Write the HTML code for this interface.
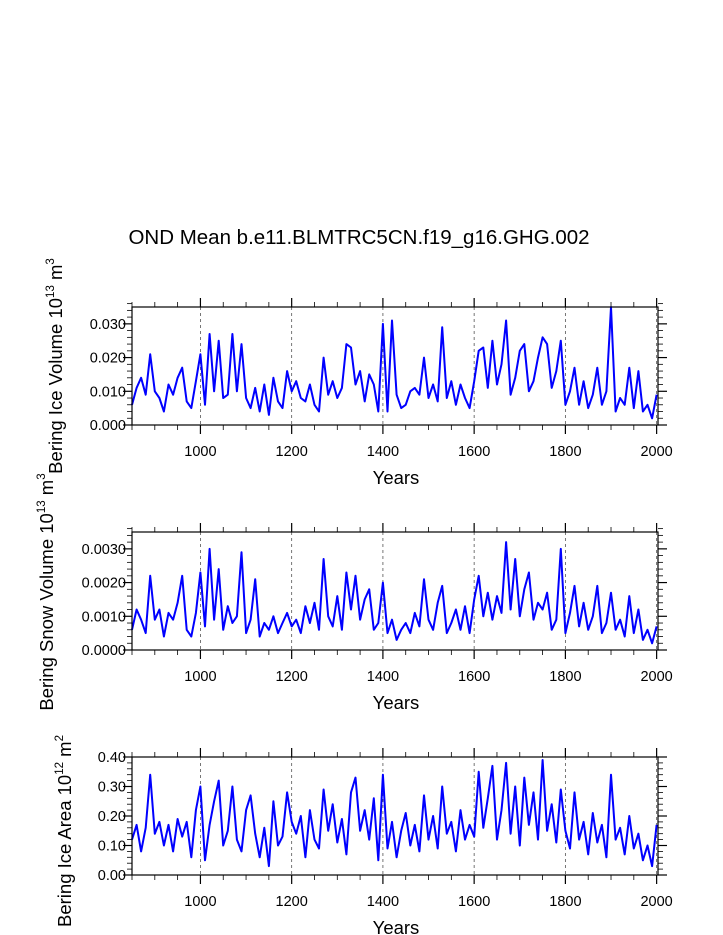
<!DOCTYPE html>
<html><head><meta charset="utf-8">
<style>
html,body{margin:0;padding:0;background:#fff;}
svg{display:block;font-family:"Liberation Sans",Arial,sans-serif;}
</style></head>
<body>
<svg id="chart" width="723" height="935" viewBox="0 0 723 935" xmlns="http://www.w3.org/2000/svg">
<text x="359" y="244" font-size="20.5" text-anchor="middle">OND Mean b.e11.BLMTRC5CN.f19_g16.GHG.002</text>
</svg>
<script>
// ---- data ----
const startYear = 850;
const yearStep = 10;
const iceVolume = [0.006,0.011,0.014,0.009,0.021,0.010,0.008,0.004,0.012,0.009,0.014,0.017,0.007,0.005,0.013,
0.021,0.006,0.027,0.010,0.025,0.008,0.009,0.027,0.010,0.024,0.008,0.005,0.011,0.004,0.012,0.003,0.014,0.007,0.005,0.016,
0.010,0.013,0.008,0.007,0.012,0.006,0.004,0.020,0.009,0.013,0.008,0.011,0.024,0.023,0.012,0.016,0.007,0.015,0.012,0.004,
0.030,0.004,0.031,0.009,0.005,0.006,0.010,0.011,0.009,0.020,0.008,0.012,0.007,0.029,0.008,0.013,0.006,0.012,0.008,0.005,
0.013,0.022,0.023,0.011,0.025,0.012,0.018,0.031,0.009,0.014,0.022,0.024,0.010,0.013,0.020,0.026,0.024,0.011,0.016,0.025,
0.006,0.010,0.017,0.006,0.013,0.005,0.009,0.017,0.006,0.010,0.035,0.004,0.008,0.006,0.017,0.005,0.016,0.004,0.006,0.002,0.009];
const snowVolume = [0.0006,0.0012,0.0009,0.0005,0.0022,0.0009,0.0012,0.0004,0.0011,0.0009,0.0014,0.0022,0.0006,0.0004,0.0011,
0.0023,0.0007,0.0030,0.0009,0.0024,0.0006,0.0013,0.0008,0.0010,0.0029,0.0005,0.0009,0.0021,0.0004,0.0008,0.0006,0.0010,0.0005,0.0008,0.0011,
0.0007,0.0009,0.0005,0.0013,0.0008,0.0014,0.0006,0.0027,0.0010,0.0007,0.0016,0.0006,0.0023,0.0012,0.0022,0.0009,0.0015,0.0018,0.0006,0.0008,
0.0020,0.0005,0.0009,0.0003,0.0006,0.0008,0.0005,0.0011,0.0007,0.0021,0.0009,0.0006,0.0014,0.0019,0.0005,0.0008,0.0012,0.0006,0.0013,0.0005,
0.0015,0.0022,0.0010,0.0017,0.0009,0.0016,0.0011,0.0032,0.0012,0.0027,0.0010,0.0018,0.0023,0.0009,0.0014,0.0012,0.0017,0.0006,0.0009,0.0030,
0.0005,0.0011,0.0019,0.0007,0.0014,0.0006,0.0010,0.0019,0.0005,0.0008,0.0017,0.0006,0.0009,0.0004,0.0016,0.0005,0.0012,0.0003,0.0006,0.0002,0.0007];
const iceArea = [0.12,0.17,0.08,0.16,0.34,0.14,0.18,0.10,0.17,0.08,0.19,0.13,0.18,0.06,0.22,
0.30,0.05,0.17,0.25,0.32,0.10,0.15,0.30,0.12,0.08,0.22,0.27,0.14,0.06,0.16,0.03,0.25,0.10,0.13,0.28,
0.18,0.14,0.20,0.06,0.22,0.12,0.09,0.29,0.15,0.24,0.11,0.19,0.07,0.28,0.33,0.15,0.22,0.12,0.26,0.05,
0.34,0.09,0.18,0.06,0.15,0.21,0.10,0.17,0.08,0.27,0.12,0.20,0.09,0.30,0.14,0.18,0.08,0.22,0.12,0.17,
0.13,0.35,0.16,0.26,0.37,0.12,0.22,0.38,0.14,0.30,0.10,0.33,0.17,0.28,0.12,0.39,0.15,0.24,0.11,0.29,
0.15,0.09,0.28,0.12,0.18,0.07,0.21,0.11,0.17,0.06,0.34,0.12,0.16,0.07,0.20,0.09,0.14,0.05,0.10,0.03,0.17];
const xTickLabels = ["1000","1200","1400","1600","1800","2000"];
const iceVolTicks = ["0.000","0.010","0.020","0.030"];
const snowVolTicks = ["0.0000","0.0010","0.0020","0.0030"];
const areaTicks = ["0.00","0.10","0.20","0.30","0.40"];

const NS = "http://www.w3.org/2000/svg";
const svg = document.getElementById('chart');
const X0 = 132, X1 = 658, XMIN = 850, XMAX = 2003;
function xs(v){ return X0 + (v - XMIN) / (XMAX - XMIN) * (X1 - X0); }
function mk(tag, attrs, parent){
  const e = document.createElementNS(NS, tag);
  for (const k in attrs) e.setAttribute(k, attrs[k]);
  (parent || svg).appendChild(e);
  return e;
}

function panel(cfg){
  const g = mk('g', {});
  
  
  const top = cfg.top, bot = cfg.top + 118;
  const ys = v => bot - (v - 0) / cfg.ymax * (bot - top);
  xTickLabels.forEach(t => {
    const x = xs(+t);
    const l = mk('line', {x1:x, x2:x, y1:top, y2:bot, stroke:'#555', 'stroke-width':0.8, 'stroke-dasharray':'3,3'}, g);
    
    
  });
  for (let yr = 850; yr <= 2000; yr += 50) {
    const x = xs(yr), maj = (yr % 200 === 0);
    const len = maj ? 9 : 5;
    mk('line', {x1:x, x2:x, y1:top, y2:top - len, stroke:'#000', 'stroke-width':maj?1.2:0.8}, g);
    mk('line', {x1:x, x2:x, y1:bot, y2:bot + len, stroke:'#000', 'stroke-width':maj?1.2:0.8}, g);
  }
  const nMinor = Math.round(cfg.ymax / cfg.minor);
  for (let i = 0; i <= nMinor; i++) {
    const v = i * cfg.minor, y = ys(v);
    const maj = Math.abs(v / cfg.major - Math.round(v / cfg.major)) < 1e-6;
    const len = maj ? 9 : 5;
    mk('line', {x1:X0, x2:X0 - len, y1:y, y2:y, stroke:'#000', 'stroke-width':maj?1.2:0.8}, g);
    mk('line', {x1:X1, x2:X1 + len, y1:y, y2:y, stroke:'#000', 'stroke-width':maj?1.2:0.8}, g);
  }
  cfg.ticks.forEach(t => {
    const tx = mk('text', {x:126, y:ys(+t) + 5, 'font-size':14.5, 'text-anchor':'end'}, g);
    tx.textContent = t;
    
    
  });
  xTickLabels.forEach(t => {
    const tx = mk('text', {x:xs(+t), y:bot + 31, 'font-size':14.5, 'text-anchor':'middle'}, g);
    tx.textContent = t;
    
    
  });
  let d = '';
  cfg.data.forEach((v, i) => {
    const yr = startYear + i * yearStep;
    d += (i ? 'L' : 'M') + xs(yr).toFixed(1) + ',' + ys(v).toFixed(1);
  });
  const p = mk('path', {d:d, fill:'none', stroke:'#0000ff', 'stroke-width':2, 'stroke-linejoin':'round'}, g);
  
  
  const fr = mk('rect', {x:X0, y:top, width:X1 - X0, height:bot - top, fill:'none', stroke:'#000', 'stroke-width':1.2}, g);
  
  
  const xt = mk('text', {x:(X0 + X1) / 2 + 1, y:bot + 59, 'font-size':18.5, 'text-anchor':'middle'}, g);
  xt.textContent = 'Years';
  
  
  const yt = mk('text', {x:0, y:0, 'font-size':18.5, 'text-anchor':'middle', transform:'translate(' + cfg.ytx + ',' + cfg.ytY + ') rotate(-90)'}, g);
  
  
  yt.innerHTML = cfg.ytitle + ' 10<tspan dy="-8" font-size="11.5">' + cfg.exp + '</tspan><tspan dy="8"> m</tspan><tspan dy="-8" font-size="11.5">' + cfg.unitExp + '</tspan>';
}

panel({name:'ice-volume', top:307, ymax:0.035, major:0.01, minor:0.002, ticks:iceVolTicks, data:iceVolume,
  ytitle:'Bering Ice Volume', exp:'13', unitExp:'3', ytx:62, ytY:366});
panel({name:'snow-volume', top:532, ymax:0.0035, major:0.001, minor:0.0002, ticks:snowVolTicks, data:snowVolume,
  ytitle:'Bering Snow Volume', exp:'13', unitExp:'3', ytx:53, ytY:592});
panel({name:'ice-area', top:757, ymax:0.4, major:0.1, minor:0.02, ticks:areaTicks, data:iceArea,
  ytitle:'Bering Ice Area', exp:'12', unitExp:'2', ytx:71, ytY:831});
</script>
</body></html>
